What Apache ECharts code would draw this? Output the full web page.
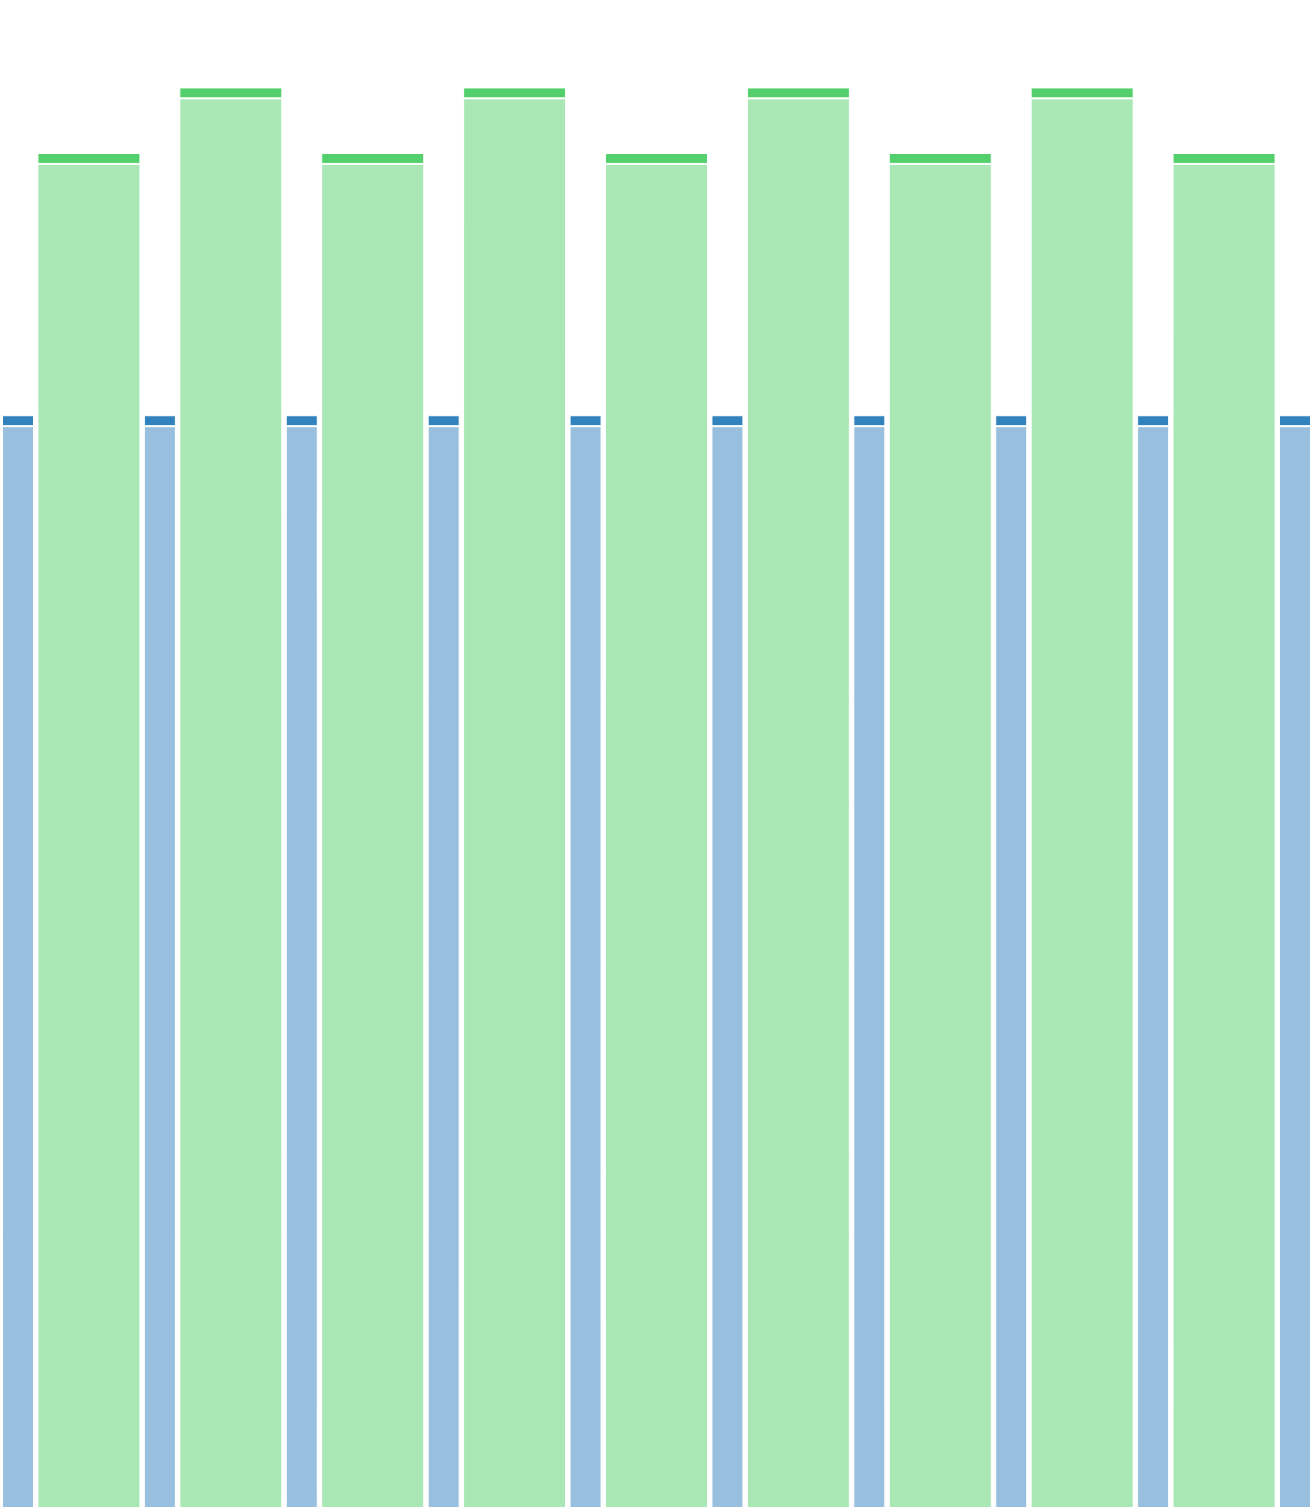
<!DOCTYPE html>
<html>
<head>
<meta charset="utf-8">
<script src="https://cdn.jsdelivr.net/npm/echarts@6/dist/echarts.min.js"></script>
<style>html,body{margin:0;padding:0;background:#fff}#c{width:1312px;height:1508px}</style>
</head>
<body>
<div id="c"></div>
<script>
const blueCategories = ['B1','B2','B3','B4','B5','B6','B7','B8','B9','B10'];
const greenCategories = ['G1','G2','G3','G4','G5','G6','G7','G8','G9'];
const blueBody = [99, 99, 99, 99, 99, 99, 99, 99, 99, 99];
const blueCap = [1, 1, 1, 1, 1, 1, 1, 1, 1, 1];
const greenBody = [123, 129, 123, 129, 123, 129, 123, 129, 123];
const greenCap = [1, 1, 1, 1, 1, 1, 1, 1, 1];

const chart = echarts.init(document.getElementById('c'), null, {renderer: 'canvas'});
const border = {borderColor: '#ffffff', borderWidth: 1};
chart.setOption({
  animation: false,
  grid: {left: 18, right: 17, top: 0, bottom: 0, containLabel: false},
  xAxis: [
    {type: 'category', data: blueCategories, boundaryGap: false, show: false},
    {type: 'category', data: greenCategories, boundaryGap: true, show: false}
  ],
  yAxis: {type: 'value', min: 0, max: 138, show: false},
  series: [
    {type: 'bar', name: 'blueBody', xAxisIndex: 0, stack: 'b', data: blueBody, barWidth: 32, clip: false,
     itemStyle: Object.assign({color: 'rgba(49,130,189,0.5)'}, border)},
    {type: 'bar', name: 'blueCap', xAxisIndex: 0, stack: 'b', data: blueCap, barWidth: 32, clip: false,
     itemStyle: Object.assign({color: '#3182bd'}, border)},
    {type: 'bar', name: 'greenBody', xAxisIndex: 1, stack: 'g', data: greenBody, barWidth: 103,
     itemStyle: Object.assign({color: 'rgba(83,208,107,0.5)'}, border)},
    {type: 'bar', name: 'greenCap', xAxisIndex: 1, stack: 'g', data: greenCap, barWidth: 103,
     itemStyle: Object.assign({color: '#53d06b'}, border)}
  ]
});
</script>
</body>
</html>
